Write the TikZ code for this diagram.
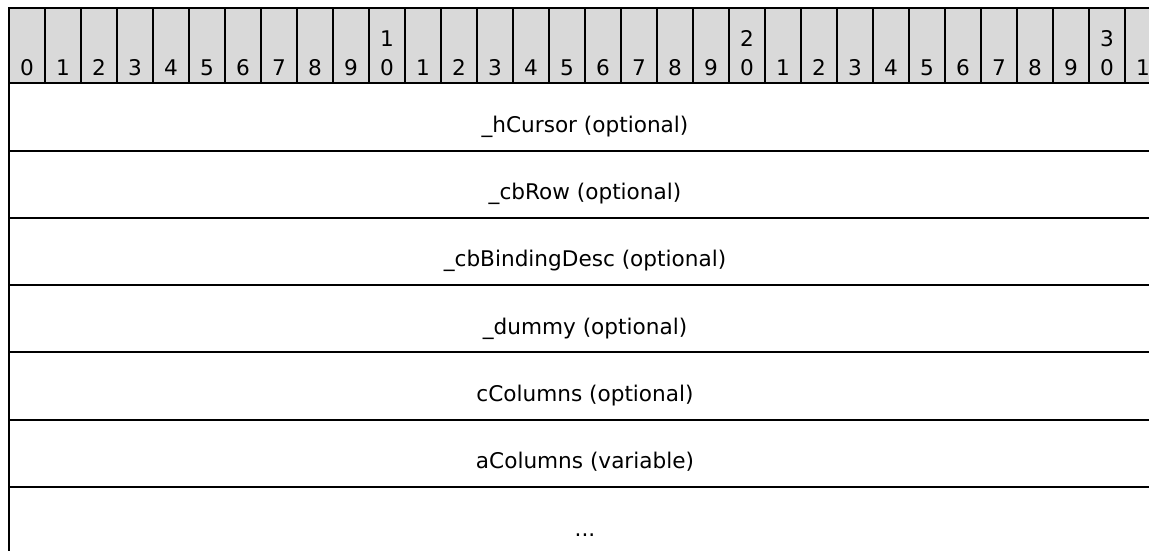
\documentclass[tikz,border=0pt]{standalone}
\usepackage{fontspec}
\setmainfont{DejaVu Sans}
\definecolor{hgray}{RGB}{217,217,217}
\begin{document}
\begin{tikzpicture}[x=1bp,y=-1bp,
  hcell/.style={draw=black, line width=2bp, fill=hgray, minimum width=36bp, minimum height=75bp, inner sep=0pt, outer sep=0pt},
  num/.style={anchor=base, inner sep=0pt, font=\fontsize{21.6bp}{26bp}\selectfont},
  field/.style={draw=black, line width=2bp, minimum width=1152bp, minimum height=67.3bp, inner sep=0pt, outer sep=0pt},
  lbl/.style={anchor=base, inner sep=0pt, font=\fontsize{21.6bp}{26bp}\selectfont}]
\useasboundingbox (0,0) rectangle (1149,551);
\clip (0,0) rectangle (1149,551);
% header
\foreach \i in {0,...,31}{
  \node[hcell] (h\i) at ({27+36*\i},45.8) {};
}
\foreach \i in {0,...,9}{
  \node[num] (n\i) at ({27+36*\i},76) {\i};
}
\foreach \i/\a/\b in {10/1/0,11/1/1,12/1/2,13/1/3,14/1/4,15/1/5,16/1/6,17/1/7,18/1/8,19/1/9,
  20/2/0,21/2/1,22/2/2,23/2/3,24/2/4,25/2/5,26/2/6,27/2/7,28/2/8,29/2/9,30/3/0,31/3/1}{
  \node[num] (na\i) at ({27+36*\i},76) {\b};
  \ifnum\b=0
    \node[num] (nb\i) at ({27+36*\i},47) {\a};
  \fi
}
% fields
\foreach \k/\t in {1/\_hCursor (optional),2/\_cbRow (optional),3/\_cbBindingDesc (optional),
  4/\_dummy (optional),5/cColumns (optional),6/aColumns (variable)}{
  \node[field] (f\k) at (585,{83.3+67.3*(\k-1)+33.65}) {};
  \node[lbl] (t\k) at ([yshift=-49bp]f\k.north) {\t};
}
\node[field] (f7) at (585,{83.3+67.3*6+33.65}) {};
\node[lbl] (t7) at ([yshift=-49bp]f7.north) {...};
\end{tikzpicture}
\end{document}
